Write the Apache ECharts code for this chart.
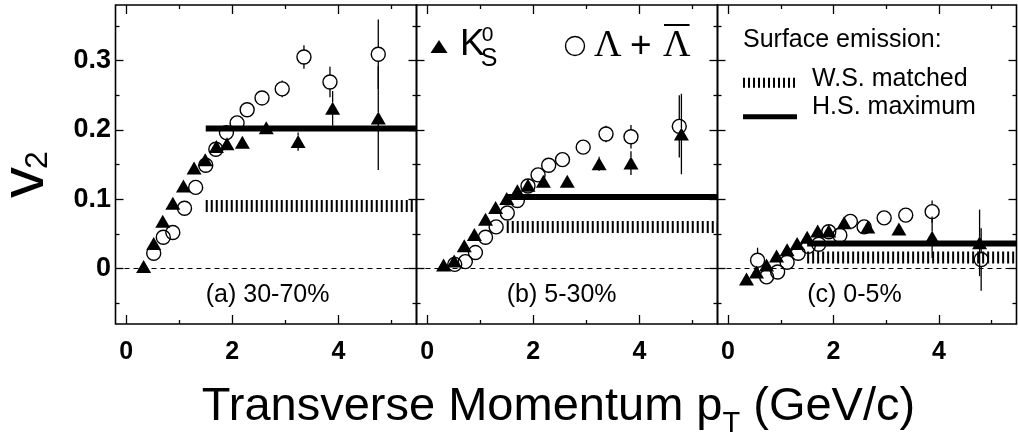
<!DOCTYPE html>
<html>
<head>
<meta charset="utf-8">
<script src="https://cdn.jsdelivr.net/npm/echarts@6/dist/echarts.min.js"></script>
<style>
  html, body { margin: 0; padding: 0; background: #fff; }
  #chart { width: 1018px; height: 441px; }
</style>
</head>
<body>
<div id="chart"></div>
<script>
// ---- measured v2(pT) for K0s and Lambda, three centrality classes ----
const panelLabels = ['(a) 30-70%', '(b) 5-30%', '(c) 0-5%'];

// (a) 30-70%
const ptK0sA  = [0.33, 0.52, 0.69, 0.88, 1.08, 1.28, 1.49, 1.70, 1.90, 2.19, 2.64, 3.24, 3.89, 4.75];
const v2K0sA  = [0.003, 0.036, 0.068, 0.094, 0.119, 0.145, 0.157, 0.176, 0.180, 0.182, 0.203, 0.183, 0.231, 0.217];
const errK0sA = [0.002, 0.002, 0.002, 0.003, 0.003, 0.003, 0.004, 0.004, 0.005, 0.005, 0.006, 0.013, 0.025, 0.075];
const ptLamA  = [0.52, 0.70, 0.88, 1.10, 1.31, 1.50, 1.69, 1.89, 2.09, 2.28, 2.56, 2.94, 3.35, 3.84, 4.75];
const v2LamA  = [0.022, 0.045, 0.052, 0.087, 0.117, 0.149, 0.172, 0.196, 0.210, 0.229, 0.246, 0.259, 0.305, 0.269, 0.309];
const errLamA = [0.003, 0.003, 0.003, 0.003, 0.003, 0.004, 0.004, 0.004, 0.005, 0.005, 0.006, 0.012, 0.017, 0.022, 0.050];

// (b) 5-30%
const ptK0sB  = [0.31, 0.51, 0.70, 0.89, 1.10, 1.29, 1.50, 1.70, 1.90, 2.19, 2.64, 3.24, 3.84, 4.79];
const v2K0sB  = [0.005, 0.011, 0.033, 0.049, 0.071, 0.088, 0.101, 0.112, 0.120, 0.126, 0.126, 0.151, 0.152, 0.194];
const errK0sB = [0.002, 0.002, 0.002, 0.002, 0.002, 0.003, 0.003, 0.003, 0.003, 0.004, 0.005, 0.010, 0.017, 0.058];
const ptLamB  = [0.52, 0.72, 0.91, 1.10, 1.30, 1.51, 1.70, 1.90, 2.09, 2.29, 2.55, 2.94, 3.37, 3.84, 4.75];
const v2LamB  = [0.006, 0.010, 0.023, 0.045, 0.060, 0.080, 0.098, 0.119, 0.135, 0.149, 0.157, 0.175, 0.194, 0.190, 0.205];
const errLamB = [0.003, 0.003, 0.003, 0.003, 0.003, 0.003, 0.003, 0.004, 0.004, 0.004, 0.005, 0.006, 0.012, 0.017, 0.045];

// (c) 0-5%
const ptK0sC  = [0.35, 0.54, 0.73, 0.92, 1.12, 1.31, 1.50, 1.70, 1.91, 2.20, 2.65, 3.24, 3.87, 4.77];
const v2K0sC  = [-0.015, -0.005, 0.005, 0.018, 0.027, 0.036, 0.045, 0.054, 0.054, 0.066, 0.060, 0.057, 0.045, 0.037];
const errK0sC = [0.003, 0.003, 0.003, 0.003, 0.003, 0.003, 0.003, 0.004, 0.004, 0.004, 0.005, 0.008, 0.030, 0.048];
const ptLamC  = [0.56, 0.73, 0.94, 1.12, 1.33, 1.52, 1.72, 1.91, 2.12, 2.32, 2.58, 2.96, 3.37, 3.87, 4.80];
const v2LamC  = [0.012, -0.012, -0.005, 0.009, 0.022, 0.032, 0.035, 0.053, 0.048, 0.068, 0.060, 0.073, 0.077, 0.082, 0.013];
const errLamC = [0.018, 0.004, 0.004, 0.004, 0.004, 0.004, 0.004, 0.005, 0.005, 0.005, 0.006, 0.007, 0.009, 0.016, 0.045];

// surface-emission model levels (flat above pT = 1.5 GeV/c)
const surfaceStartPt = 1.5;
const hsMaximum = [0.202, 0.103, 0.036];
const wsMatched = [0.090, 0.060, 0.016];

// axes
const xRange = [-0.2, 5.47];
const yRange = [-0.08, 0.38];
const xTicksMajor = [0, 2, 4];
const xTicksMinor = [1, 3, 5];
const yTicksMajor = [0, 0.1, 0.2, 0.3];
const yTicksMinor = [-0.05, 0.05, 0.15, 0.25, 0.35];

const panels = [
  { k: [ptK0sA, v2K0sA, errK0sA], l: [ptLamA, v2LamA, errLamA] },
  { k: [ptK0sB, v2K0sB, errK0sB], l: [ptLamB, v2LamB, errLamB] },
  { k: [ptK0sC, v2K0sC, errK0sC], l: [ptLamC, v2LamC, errLamC] }
];

const SANS = '"Liberation Sans", Arial, Helvetica, sans-serif';
const SERIF = '"Liberation Serif", "Times New Roman", serif';
const BLACK = '#000';

const gridLeft = [115.5, 416.5, 717.5];
const gridWidth = [301, 301, 299];
const gridTop = 5, gridHeight = 319;

const zip = (xs, ys, es) => xs.map((x, i) => es ? [x, ys[i], es[i]] : [x, ys[i]]);

function xAxisDef(g, position, ticks, len, labels) {
  return {
    type: 'value', gridIndex: g, position: position,
    min: xRange[0], max: xRange[1],
    axisLine: { show: false, onZero: false },
    splitLine: { show: false },
    axisTick: { show: true, inside: true, length: len, customValues: ticks,
                lineStyle: { color: BLACK, width: 1.3 } },
    axisLabel: labels ? {
      show: true, customValues: labels, margin: 16, color: BLACK,
      fontFamily: SANS, fontWeight: 'bold', fontSize: 25,
      formatter: v => String(v)
    } : { show: false }
  };
}

function yAxisDef(g, position, ticks, len, labels) {
  return {
    type: 'value', gridIndex: g, position: position,
    min: yRange[0], max: yRange[1],
    axisLine: { show: false, onZero: false },
    splitLine: { show: false },
    axisTick: { show: true, inside: true, length: len, customValues: ticks,
                lineStyle: { color: BLACK, width: 1.3 } },
    axisLabel: labels ? {
      show: true, customValues: labels, margin: 4.5, color: BLACK,
      fontFamily: SANS, fontWeight: 'bold', fontSize: 27,
      formatter: v => (v === 0 ? '0' : v.toFixed(1))
    } : { show: false }
  };
}

// vertical error bars; the bar stops at the marker edge
function errorBarRenderer(gap) {
  return function (params, api) {
    const x = api.value(0), y = api.value(1), e = api.value(2);
    const top = api.coord([x, y + e]);
    const bot = api.coord([x, y - e]);
    const mid = api.coord([x, y]);
    const style = { stroke: BLACK, lineWidth: 1.3 };
    const children = [];
    if (mid[1] - top[1] > gap) {
      children.push({ type: 'line', shape: { x1: top[0], y1: top[1], x2: mid[0], y2: mid[1] - gap }, style });
      children.push({ type: 'line', shape: { x1: mid[0], y1: mid[1] + gap, x2: bot[0], y2: bot[1] }, style });
    }
    return { type: 'group', children };
  };
}

const grids = [], xAxes = [], yAxes = [], series = [];

panels.forEach((p, g) => {
  grids.push({
    left: gridLeft[g], top: gridTop, width: gridWidth[g], height: gridHeight,
    show: true, borderColor: BLACK, borderWidth: 1.6, backgroundColor: 'transparent'
  });
  xAxes.push(
    xAxisDef(g, 'bottom', xTicksMajor, 9, xTicksMajor),
    xAxisDef(g, 'bottom', xTicksMinor, 4, null),
    xAxisDef(g, 'top', xTicksMajor, 9, null),
    xAxisDef(g, 'top', xTicksMinor, 4, null)
  );
  yAxes.push(
    yAxisDef(g, 'left', yTicksMajor, 8, g === 0 ? yTicksMajor : null),
    yAxisDef(g, 'left', yTicksMinor, 4, null),
    yAxisDef(g, 'right', yTicksMajor, 8, null),
    yAxisDef(g, 'right', yTicksMinor, 4, null)
  );
  const ax = { xAxisIndex: g * 4, yAxisIndex: g * 4 };

  series.push({
    name: 'W.S. matched', type: 'line', ...ax, silent: true, z: 2,
    symbol: 'none', animation: false,
    data: [[surfaceStartPt, wsMatched[g]], [xRange[1], wsMatched[g]]],
    lineStyle: { color: BLACK, width: 12, type: [2, 3], cap: 'butt', opacity: 1 },
    markLine: {
      silent: true, symbol: ['none', 'none'], animation: false,
      label: { show: false },
      lineStyle: { color: BLACK, width: 1, type: [5, 4], opacity: 1 },
      data: [{ yAxis: 0 }]
    }
  });
  series.push({
    name: 'H.S. maximum', type: 'line', ...ax, silent: true, z: 2,
    symbol: 'none', animation: false,
    data: [[surfaceStartPt, hsMaximum[g]], [xRange[1], hsMaximum[g]]],
    lineStyle: { color: BLACK, width: 6, cap: 'butt', opacity: 1 }
  });
  series.push({
    type: 'custom', ...ax, silent: true, z: 3, animation: false,
    renderItem: errorBarRenderer(6), data: zip(p.k[0], p.k[1], p.k[2])
  });
  series.push({
    type: 'custom', ...ax, silent: true, z: 3, animation: false,
    renderItem: errorBarRenderer(7), data: zip(p.l[0], p.l[1], p.l[2])
  });
  series.push({
    name: 'K0s', type: 'scatter', ...ax, silent: true, z: 4, animation: false,
    symbol: 'triangle', symbolSize: [15, 13],
    itemStyle: { color: BLACK, opacity: 1 },
    data: zip(p.k[0], p.k[1]),
    markPoint: {
      silent: true, animation: false, symbol: 'circle', symbolSize: 0,
      data: [{ coord: [1.5, -0.039] }],
      label: {
        show: true, position: 'right', distance: 0, formatter: panelLabels[g],
        color: BLACK, fontFamily: SANS, fontSize: 25
      }
    }
  });
  series.push({
    name: 'Lambda', type: 'scatter', ...ax, silent: true, z: 5, animation: false,
    symbol: 'circle', symbolSize: 14,
    itemStyle: { color: 'rgba(0,0,0,0)', borderColor: BLACK, borderWidth: 1.4, opacity: 1 },
    data: zip(p.l[0], p.l[1])
  });
});

// ---- text helpers for titles and legends ----
const measureCtx = document.createElement('canvas').getContext('2d');
function textWidth(str, font) { measureCtx.font = font; return measureCtx.measureText(str).width; }
function font(size, family, weight) { return (weight ? weight + ' ' : '') + size + 'px ' + family; }
function label(text, x, yMid, size, family, extra) {
  return Object.assign({
    type: 'text', x: x, y: yMid, silent: true,
    style: { text: text, font: font(size, family), fill: BLACK, align: 'left', verticalAlign: 'middle' }
  }, extra || {});
}

const graphics = [];

// x-axis title: Transverse Momentum p_T (GeV/c)
(function () {
  const fMain = 47, fSub = 29;
  const s1 = 'Transverse Momentum p', s2 = 'T', s3 = ' (GeV/c)';
  const w1 = textWidth(s1, font(fMain, SANS));
  const w2 = textWidth(s2, font(fSub, SANS));
  const w3 = textWidth(s3, font(fMain, SANS));
  const x0 = 558.5 - (w1 + w2 + w3) / 2;
  graphics.push(label(s1, x0, 407.5, fMain, SANS));
  graphics.push(label(s2, x0 + w1, 424, fSub, SANS));
  graphics.push(label(s3, x0 + w1 + w2, 407.5, fMain, SANS));
})();

// y-axis title: v_2, reading bottom to top
(function () {
  const fMain = 62, fSub = 32;
  const wv = textWidth('v', font(fMain, SANS));
  graphics.push({
    type: 'group', x: 0, y: 198, rotation: Math.PI / 2, silent: true,
    children: [
      label('v', 0, 31 - 0.0865 * fMain, fMain, SANS),
      label('2', wv - 2, 38.5, fSub, SANS)
    ]
  });
})();

// particle legend in panel (b)
(function () {
  graphics.push({
    type: 'polygon', silent: true,
    shape: { points: [[430.5, 53], [447.5, 53], [439, 40]] },
    style: { fill: BLACK }
  });
  graphics.push(label('K', 460, 45, 37, SANS));
  const kx = 460 + textWidth('K', font(37, SANS));
  graphics.push(label('0', kx - 3, 35.5, 21, SANS));
  graphics.push(label('S', kx - 4, 59, 25, SANS));

  graphics.push({
    type: 'circle', silent: true,
    shape: { cx: 575, cy: 46, r: 9.5 },
    style: { fill: 'none', stroke: BLACK, lineWidth: 1.4 }
  });
  const fL = 38;
  const wl = textWidth('\u039B', font(fL, SERIF));
  graphics.push(label('\u039B', 594, 46, fL, SERIF));
  graphics.push(label('+', 630, 47, 37, SANS));
  const px = 663;
  graphics.push(label('\u039B', px, 46, fL, SERIF));
  graphics.push({
    type: 'line', silent: true,
    shape: { x1: px + 1, y1: 25, x2: px + wl - 1, y2: 25 },
    style: { stroke: BLACK, lineWidth: 2 }
  });
})();

// model legend in panel (c)
(function () {
  graphics.push(label('Surface emission:', 743, 40, 25, SANS));
  graphics.push({
    type: 'line', silent: true,
    shape: { x1: 743, y1: 82.7, x2: 797, y2: 82.7 },
    style: { stroke: BLACK, lineWidth: 10, lineDash: [2, 3], lineCap: 'butt' }
  });
  graphics.push(label('W.S. matched', 812, 79.5, 25, SANS));
  graphics.push({
    type: 'line', silent: true,
    shape: { x1: 743, y1: 116.7, x2: 797, y2: 116.7 },
    style: { stroke: BLACK, lineWidth: 5, lineCap: 'butt' }
  });
  graphics.push(label('H.S. maximum', 812, 106.7, 25, SANS));
})();

const chart = echarts.init(document.getElementById('chart'), null, { renderer: 'canvas' });
chart.setOption({
  backgroundColor: '#fff',
  animation: false,
  grid: grids,
  xAxis: xAxes,
  yAxis: yAxes,
  series: series,
  graphic: graphics
});
</script>
</body>
</html>
